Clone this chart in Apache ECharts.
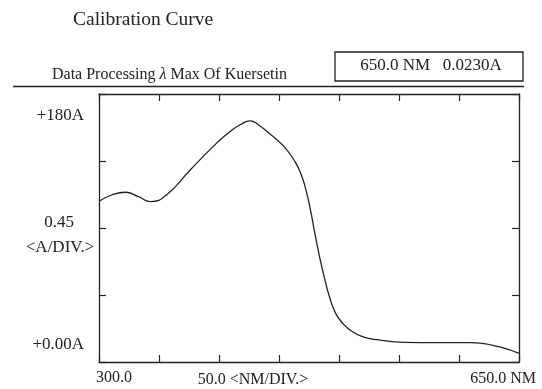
<!DOCTYPE html>
<html>
<head>
<meta charset="utf-8">
<title>Calibration Curve</title>
<script src="https://cdn.jsdelivr.net/npm/echarts@6/dist/echarts.min.js"></script>
<style>
  html, body { margin: 0; padding: 0; background: #fff; }
  #chart { width: 542px; height: 389px; }
</style>
</head>
<body>
<div id="chart"></div>
<script>
// spectrum (nm, A)
const wavelength = [300, 310, 322, 333, 343, 356, 376, 398, 409, 418, 426, 433, 442, 450, 457, 463,
  468, 472, 476, 480, 484, 488, 492, 497, 503, 510, 520, 533, 554, 582, 609, 622, 631, 641, 650];
const absorbance = [1.08, 1.12, 1.14, 1.11, 1.077, 1.12, 1.29, 1.47, 1.547, 1.595, 1.619, 1.592, 1.535, 1.48, 1.42, 1.35,
  1.27, 1.17, 1.03, 0.86, 0.70, 0.56, 0.44, 0.33, 0.26, 0.21, 0.168, 0.148, 0.132, 0.13, 0.13, 0.122, 0.107, 0.085, 0.058];

const xTickLabels = ['300.0', '50.0 <NM/DIV.>', '650.0 NM'];
const yTickLabels = ['+180A', '0.45', '<A/DIV.>', '+0.00A'];
const titleText = 'Calibration Curve';
const readoutText = '650.0 NM   0.0230A';

const serif = '"Liberation Serif", "DejaVu Serif", serif';
const ink = '#222';

const chart = echarts.init(document.getElementById('chart'));

// 四边都画轴线，刻度朝里
const frameAxis = (pos) => ({
  type: 'value',
  position: pos,
  axisLine: { show: true, onZero: false, lineStyle: { color: ink, width: 1.3 } },
  axisTick: { show: true, inside: true, length: 7, lineStyle: { color: ink, width: 1.2 } },
  axisLabel: { show: false },
  splitLine: { show: false }
});

const txt = (x, y, text, size, align) => ({
  type: 'text', x, y,
  style: {
    text, fontFamily: serif, fontSize: size, fill: ink,
    align: align || 'center', verticalAlign: 'middle'
  }
});

chart.setOption({
  animation: false,
  grid: { left: 99, right: 23, top: 94, bottom: 27 },
  xAxis: [
    Object.assign(frameAxis('bottom'), { min: 300, max: 650, interval: 50 }),
    Object.assign(frameAxis('top'), { min: 300, max: 650, interval: 50 })
  ],
  yAxis: [
    Object.assign(frameAxis('left'), { min: 0, max: 1.8, interval: 0.45 }),
    Object.assign(frameAxis('right'), { min: 0, max: 1.8, interval: 0.45 })
  ],
  series: [{
    type: 'line',
    data: wavelength.map((w, i) => [w, absorbance[i]]),
    smooth: 0.5,
    showSymbol: false,
    lineStyle: { color: ink, width: 1.3 }
  }],
  graphic: [
    txt(73, 20, titleText, 19.5, 'left'),
    {
      type: 'text', x: 52, y: 75,
      style: {
        text: '{n|Data Processing }{l|λ}{n| Max Of Kuersetin}',
        verticalAlign: 'middle',
        rich: {
          n: { fontFamily: serif, fontSize: 16, fill: ink },
          l: { fontFamily: serif, fontSize: 16, fontStyle: 'italic', fill: ink }
        }
      }
    },
    { type: 'rect', shape: { x: 335, y: 52, width: 188, height: 29 },
      style: { fill: 'none', stroke: ink, lineWidth: 1.3 } },
    txt(431, 66, readoutText, 17),
    { type: 'line', shape: { x1: 13, y1: 86.5, x2: 524, y2: 86.5 },
      style: { stroke: ink, lineWidth: 1.6 } },
    txt(84, 116, yTickLabels[0], 17, 'right'),
    txt(59, 223, yTickLabels[1], 17),
    txt(60, 248, yTickLabels[2], 17),
    txt(84, 345, yTickLabels[3], 17, 'right'),
    txt(114, 378, xTickLabels[0], 16),
    txt(253, 380, xTickLabels[1], 16),
    txt(536, 379, xTickLabels[2], 16, 'right')
  ]
});
</script>
</body>
</html>
